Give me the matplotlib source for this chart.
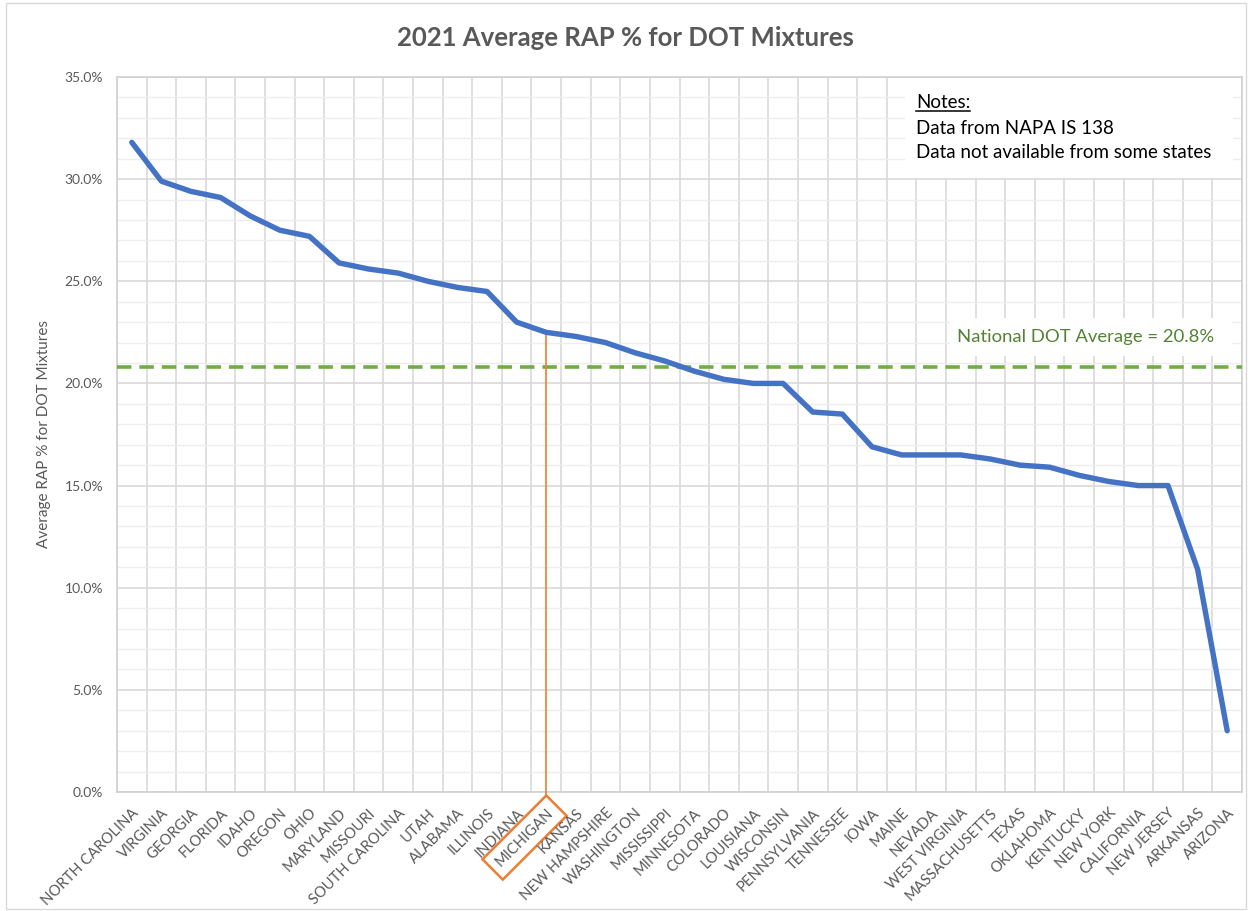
import numpy as np
import matplotlib
matplotlib.use("Agg")
import matplotlib.pyplot as plt
from matplotlib.ticker import FixedLocator, MultipleLocator, PercentFormatter
from matplotlib.patches import Rectangle

states = ["NORTH CAROLINA", "VIRGINIA", "GEORGIA", "FLORIDA", "IDAHO", "OREGON", "OHIO",
          "MARYLAND", "MISSOURI", "SOUTH CAROLINA", "UTAH", "ALABAMA", "ILLINOIS", "INDIANA",
          "MICHIGAN", "KANSAS", "NEW HAMPSHIRE", "WASHINGTON", "MISSISSIPPI", "MINNESOTA",
          "COLORADO", "LOUISIANA", "WISCONSIN", "PENNSYLVANIA", "TENNESSEE", "IOWA", "MAINE",
          "NEVADA", "WEST VIRGINIA", "MASSACHUSETTS", "TEXAS", "OKLAHOMA", "KENTUCKY",
          "NEW YORK", "CALIFORNIA", "NEW JERSEY", "ARKANSAS", "ARIZONA"]
rap_pct = [31.8, 29.9, 29.4, 29.1, 28.2, 27.5, 27.2,
           25.9, 25.6, 25.4, 25.0, 24.7, 24.5, 23.0,
           22.5, 22.3, 22.0, 21.5, 21.1, 20.6,
           20.2, 20.0, 20.0, 18.6, 18.5, 16.9, 16.5,
           16.5, 16.5, 16.3, 16.0, 15.9, 15.5,
           15.2, 15.0, 15.0, 10.9, 3.0]
national_avg = 20.8
highlight = "MICHIGAN"

plt.rcParams["font.family"] = ["Lato", "DejaVu Sans"]
gray = "#595959"

fig = plt.figure(figsize=(12.5, 9.11), dpi=100)
ax = fig.add_axes([117 / 1250, 1 - 792 / 911, 1125 / 1250, 715 / 911])

# outer chart border
fig.patches.append(Rectangle((6 / 1250, 2 / 911), 1240 / 1250, 906 / 911, transform=fig.transFigure,
                             fill=False, ec="#D9D9D9", lw=1))

x = np.arange(len(states))
ax.plot(x, rap_pct, color="#4472C4", lw=3.9, solid_joinstyle="round", solid_capstyle="round", zorder=4)
ax.axhline(national_avg, color="#70AD47", lw=2.6, dashes=(4, 2.2), zorder=3)

# michigan marker line
mi = states.index(highlight)
ax.plot([mi, mi], [-0.15, rap_pct[mi]], color="#ED7D31", lw=1.2, clip_on=False, zorder=3)

ax.set_xlim(-0.5, len(states) - 0.5)
ax.set_ylim(0, 35)
ax.yaxis.set_major_locator(MultipleLocator(5))
ax.yaxis.set_minor_locator(MultipleLocator(1))
ax.yaxis.set_major_formatter(PercentFormatter(decimals=1))
ax.set_xticks(x)
ax.set_xticklabels(states, rotation=45, ha="right", rotation_mode="anchor")
ax.xaxis.set_minor_locator(FixedLocator(np.arange(-0.5, len(states), 1.0)))
ax.tick_params(axis="both", which="both", length=0, colors=gray, labelsize=10)
ax.tick_params(axis="x", pad=10, labelsize=10.6)
ax.tick_params(axis="y", pad=10)

ax.grid(which="major", axis="y", color="#D9D9D9", lw=1.2)
ax.grid(which="minor", axis="y", color="#EDEDED", lw=1)
ax.grid(which="minor", axis="x", color="#D9D9D9", lw=1.2)
ax.set_axisbelow(True)
for s in ax.spines.values():
    s.set_color("#D0D0D0")
    s.set_linewidth(1.2)

for lbl in ax.get_xticklabels():
    if lbl.get_text() == highlight:
        lbl.set_bbox(dict(boxstyle="square,pad=0.5", fc="none", ec="#ED7D31", lw=1.8))

ax.set_ylabel("Average RAP % for DOT Mixtures", color=gray, fontsize=11, labelpad=10)
fig.text(0.5, 1 - 38 / 911, "2021 Average RAP % for DOT Mixtures", ha="center", va="center",
         fontsize=18.5, fontweight="bold", color=gray)

# white boxes behind the notes
fig.patches.append(Rectangle((905 / 1250, 1 - 178 / 911), 328 / 1250, 100 / 911, transform=fig.transFigure,
                             fc="white", ec="none", zorder=2))
fig.patches.append(Rectangle((950 / 1250, 1 - 356 / 911), 282 / 1250, 38 / 911, transform=fig.transFigure,
                             fc="white", ec="none", zorder=2))
notes_hdr = fig.text(916 / 1250, 1 - 103 / 911, "Notes:", fontsize=13.5, color="black", va="center", zorder=6)
fig.text(916 / 1250, 1 - 128 / 911, "Data from NAPA IS 138", fontsize=13.5, color="black", va="center", zorder=6)
fig.text(916 / 1250, 1 - 152 / 911, "Data not available from some states", fontsize=13.5, color="black",
         va="center", zorder=6)
fig.text(1214 / 1250, 1 - 337 / 911, f"National DOT Average = {national_avg:.1f}%", fontsize=13.3,
         color="#548235", ha="right", va="center", zorder=6)

# underline notes header
fig.canvas.draw()
bb = notes_hdr.get_window_extent().transformed(fig.transFigure.inverted())
ul = plt.Line2D([bb.x0, bb.x1], [bb.y0 + 0.001, bb.y0 + 0.001], color="black", lw=1.1,
                transform=fig.transFigure, zorder=7)
fig.lines.append(ul)

fig.savefig("out.png", dpi=100)
